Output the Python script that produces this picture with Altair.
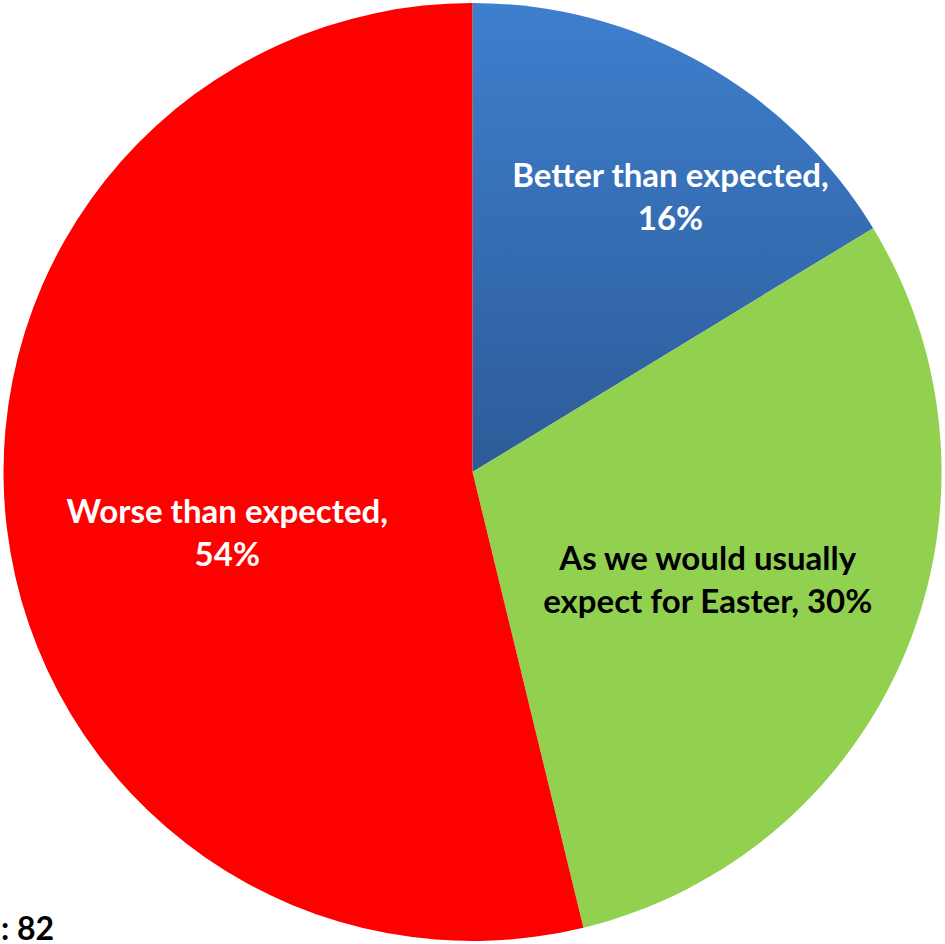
import altair as alt
import pandas as pd

categories = ["Better than expected", "As we would usually expect for Easter", "Worse than expected"]
shares = [16.3, 29.9, 53.8]
labels = ["Better than expected,\n16%", "As we would usually\nexpect for Easter, 30%", "Worse than expected,\n54%"]
slice_order = [0, 1, 2]
colors = ["#3B78C6", "#92D050", "#FF0000"]
base_note = ": 82"

df = pd.DataFrame({"category": categories, "share": shares, "label": labels, "order": slice_order})

FONT = "Lato"
R = 469
theta_scale = alt.Scale(domain=[0, 100])

base = (
    alt.Chart(df)
    .transform_window(cum="sum(share)", sort=[alt.SortField("order")], frame=[None, 0])
    .transform_calculate(start="datum.cum - datum.share", mid="datum.cum - datum.share / 2")
)

gradient = {
    "gradient": "linear",
    "x1": 0, "y1": 0, "x2": 0, "y2": 1,
    "stops": [
        {"offset": 0, "color": "#3E7FCE"},
        {"offset": 1, "color": "#2D5B98"},
    ],
}

flat = base.transform_filter("datum.order != 0").mark_arc(outerRadius=R).encode(
    theta=alt.Theta("start:Q", scale=theta_scale),
    theta2="cum:Q",
    fill=alt.Fill("category:N", scale=alt.Scale(domain=categories, range=colors), legend=None),
)
blue = base.transform_filter("datum.order == 0").mark_arc(outerRadius=R, fill=gradient).encode(
    theta=alt.Theta("start:Q", scale=theta_scale),
    theta2="cum:Q",
)

def label_layer(idx, radius, dx, dy, color):
    return base.transform_filter(f"datum.order == {idx}").mark_text(
        radius=radius, dx=dx, dy=dy, font=FONT, fontWeight="bold", fontSize=33,
        lineBreak="\n", lineHeight=43, align="center", baseline="middle", color=color,
    ).encode(
        theta=alt.Theta("mid:Q", scale=theta_scale),
        text="label:N",
    )

t_blue = label_layer(0, 300, 51, -33, "white")
t_green = label_layer(1, 260, -5, -11, "black")
t_red = label_layer(2, 250, 3, 11, "white")

note = alt.Chart(pd.DataFrame({"t": [base_note]})).mark_text(
    font=FONT, fontWeight="bold", fontSize=32, align="left", baseline="alphabetic", color="black"
).encode(x=alt.value(1), y=alt.value(940), text="t:N")

chart = alt.layer(blue, flat, t_blue, t_green, t_red, note).properties(
    width=945, height=944, padding=0, autosize=alt.AutoSizeParams(type="none"),
).configure_view(stroke=None)

chart.save("out.html", embed_options={"renderer": "svg", "actions": False})
